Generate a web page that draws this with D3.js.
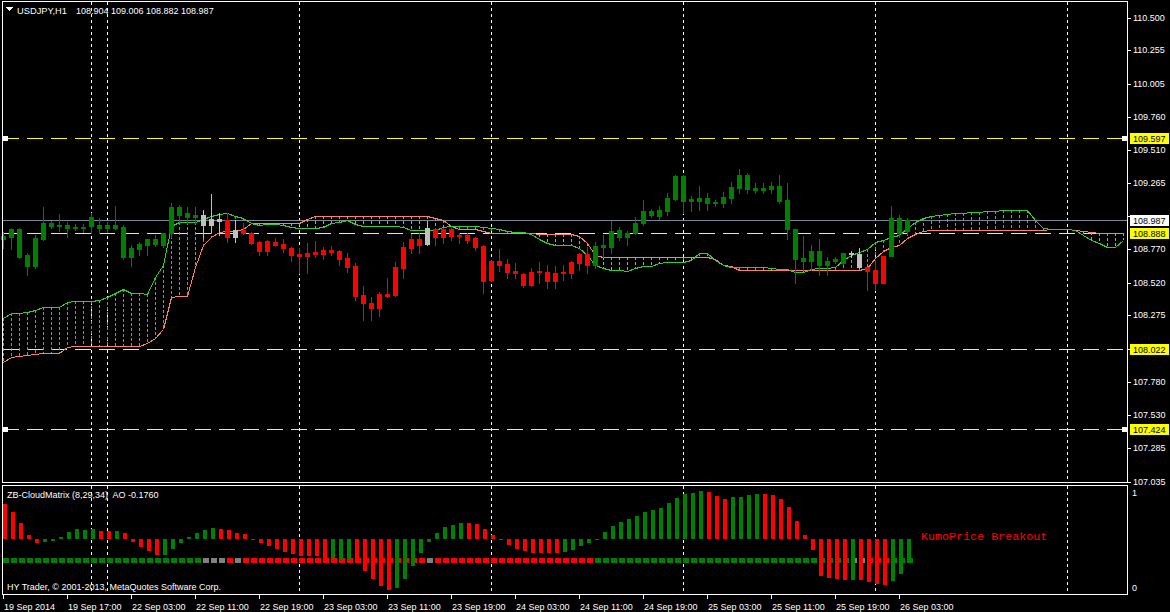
<!DOCTYPE html>
<html><head><meta charset="utf-8">
<script src="https://cdn.jsdelivr.net/npm/d3@7"></script>
<style>html,body{margin:0;padding:0;background:#000;overflow:hidden}</style>
</head><body>
<svg id="c" width="1170" height="612"></svg>
<script>
// ---------- DATA ----------
const symbolTitle = "USDJPY,H1";
const titleValues = ["108.904","109.006","108.882","108.987"];
const indicatorTitle = "ZB-CloudMatrix (8,29,34)  AO -0.1760";
const copyrightText = "HY Trader, \u00A9 2001-2013, MetaQuotes Software Corp.";
const signalText = "KumoPrice Breakout";

const open = [
108.846,108.861,108.920,108.727,108.645,108.846,108.965,108.943,108.950,108.928,
108.935,108.943,108.950,108.928,108.950,108.935,108.712,108.771,108.801,108.846,
108.801,108.891,109.085,109.010,109.025,109.025,108.950,108.995,108.988,108.861,
108.913,108.891,108.824,108.756,108.824,108.809,108.779,108.734,108.719,108.749,
108.734,108.764,108.756,108.704,108.645,108.428,108.368,108.331,108.435,108.428,
108.630,108.779,108.846,108.809,108.920,108.861,108.920,108.868,108.876,108.853,
108.794,108.540,108.682,108.659,108.607,108.585,108.503,108.600,108.600,108.533,
108.592,108.592,108.667,108.734,108.652,108.786,108.786,108.913,108.861,108.891,
108.965,109.055,109.018,109.055,109.144,109.316,109.130,109.152,109.115,109.122,
109.115,109.152,109.227,109.324,109.227,109.212,109.219,109.242,109.137,108.920,
108.704,108.682,108.756,108.652,108.682,108.667,108.741,108.734,108.637,108.615,
108.518,108.719,109.003,108.904];
const high = [
108.898,108.928,108.928,108.741,108.876,109.085,108.980,109.033,108.973,108.958,
108.958,109.040,109.003,108.973,109.092,108.950,108.801,108.824,108.846,108.876,
108.891,109.115,109.100,109.085,109.085,109.062,109.182,109.040,109.040,108.988,
108.965,108.898,108.831,108.838,108.853,108.846,108.786,108.779,108.816,108.831,
108.786,108.794,108.764,108.741,108.667,108.495,108.413,108.450,108.555,108.674,
108.824,108.883,108.891,108.980,108.928,108.928,108.928,108.891,108.891,108.861,
108.801,108.689,108.771,108.697,108.667,108.592,108.630,108.674,108.652,108.645,
108.652,108.682,108.741,108.786,108.824,108.876,108.980,108.935,108.906,109.010,
109.137,109.070,109.092,109.189,109.324,109.324,109.167,109.242,109.189,109.137,
109.197,109.271,109.369,109.339,109.264,109.264,109.271,109.324,109.264,108.920,
108.868,108.801,108.846,108.712,108.712,108.741,108.756,108.779,108.637,108.689,
108.719,109.092,109.025,109.006];
const low = [
108.779,108.771,108.704,108.577,108.630,108.838,108.928,108.906,108.861,108.913,
108.898,108.891,108.891,108.898,108.920,108.697,108.645,108.727,108.727,108.794,
108.786,108.861,108.973,108.965,108.965,108.853,108.898,108.876,108.824,108.824,
108.883,108.809,108.727,108.727,108.794,108.749,108.682,108.592,108.592,108.712,
108.697,108.727,108.652,108.600,108.391,108.241,108.241,108.271,108.413,108.420,
108.555,108.741,108.741,108.801,108.801,108.816,108.838,108.816,108.816,108.764,
108.443,108.533,108.607,108.555,108.555,108.488,108.495,108.518,108.480,108.480,
108.540,108.555,108.615,108.592,108.630,108.712,108.741,108.838,108.801,108.883,
108.950,109.010,108.995,109.025,109.137,109.040,109.055,109.062,109.062,109.092,
109.085,109.115,109.189,109.189,109.189,109.189,109.189,109.115,108.846,108.518,
108.615,108.615,108.577,108.577,108.667,108.659,108.712,108.630,108.465,108.465,
108.518,108.719,108.861,108.882];
const close = [
108.868,108.920,108.712,108.645,108.853,108.965,108.943,108.950,108.928,108.935,
108.928,109.010,108.928,108.950,108.928,108.712,108.779,108.809,108.846,108.809,
108.891,109.085,109.025,109.040,109.010,108.950,108.995,108.980,108.861,108.913,
108.891,108.816,108.756,108.831,108.801,108.779,108.727,108.719,108.741,108.734,
108.764,108.749,108.697,108.637,108.420,108.368,108.331,108.435,108.420,108.637,
108.786,108.846,108.801,108.928,108.861,108.920,108.868,108.876,108.838,108.786,
108.533,108.682,108.652,108.600,108.592,108.503,108.600,108.607,108.533,108.592,
108.600,108.674,108.734,108.652,108.794,108.801,108.906,108.861,108.891,108.965,
109.055,109.025,109.062,109.152,109.316,109.130,109.144,109.130,109.152,109.115,
109.159,109.234,109.324,109.219,109.212,109.227,109.242,109.130,108.920,108.697,
108.682,108.756,108.652,108.682,108.697,108.741,108.734,108.637,108.607,108.518,
108.719,109.003,108.891,108.987];
// bar state: g = green, r = red, s = silver (neutral)
const barState = ("ggggggggggggggggggggggggg" + "sss" + "r" + "s" + "rrrrrrrrrrrrrrrrrrrrrrr" + "s" +
  "rrrrrrrrrrrrrrrrrrrr" + "gggggggggggggggggggggggggggggggg" + "ss" + "rrr" + "ggg").split("");

const spanA = [
108.256,108.293,108.293,108.301,108.316,108.338,108.338,108.338,108.376,108.383,
108.383,108.383,108.391,108.413,108.443,108.473,108.443,108.443,108.435,108.562,
108.652,108.943,108.973,108.973,108.973,108.995,109.018,109.033,109.040,109.018,
109.003,108.965,108.950,108.958,108.958,108.950,108.935,108.928,108.928,108.928,
108.935,108.965,108.973,108.988,108.958,108.943,108.943,108.943,108.943,108.943,
108.935,108.913,108.913,108.913,108.913,108.935,108.943,108.943,108.943,108.943,
108.935,108.928,108.920,108.906,108.898,108.898,108.883,108.846,108.816,108.801,
108.801,108.801,108.779,108.727,108.652,108.630,108.615,108.615,108.607,108.630,
108.645,108.645,108.667,108.674,108.674,108.674,108.689,108.741,108.741,108.689,
108.652,108.637,108.637,108.637,108.637,108.637,108.630,108.622,108.622,108.600,
108.600,108.622,108.630,108.630,108.637,108.689,108.727,108.749,108.771,108.824,
108.838,108.861,108.876,108.928,108.973,109.003,109.018,109.025,109.033,109.040,
109.040,109.048,109.048,109.055,109.055,109.062,109.062,109.062,109.062,108.988,
108.928,108.920,108.920,108.920,108.913,108.876,108.838,108.816,108.786,108.786,
108.838];
const spanB = [
107.927,107.965,107.972,107.980,107.987,107.995,107.995,107.995,108.039,108.047,
108.047,108.047,108.047,108.047,108.047,108.047,108.047,108.047,108.069,108.107,
108.174,108.413,108.420,108.420,108.637,108.801,108.861,108.898,108.906,108.906,
108.920,108.965,108.965,108.965,108.965,108.965,108.965,108.965,108.995,109.018,
109.018,109.018,109.018,109.018,109.018,109.018,109.018,109.018,109.018,109.018,
109.018,109.018,109.018,109.018,109.003,108.988,108.943,108.920,108.920,108.920,
108.906,108.891,108.891,108.891,108.891,108.891,108.891,108.883,108.883,108.883,
108.883,108.883,108.868,108.816,108.727,108.712,108.712,108.712,108.712,108.712,
108.712,108.712,108.712,108.712,108.712,108.712,108.712,108.712,108.712,108.697,
108.652,108.645,108.615,108.615,108.615,108.615,108.615,108.615,108.615,108.615,
108.615,108.615,108.615,108.615,108.615,108.615,108.615,108.615,108.630,108.704,
108.756,108.786,108.801,108.853,108.883,108.906,108.913,108.913,108.913,108.913,
108.913,108.913,108.913,108.913,108.913,108.913,108.913,108.913,108.913,108.913,
108.913,108.920,108.920,108.920,108.913,108.906,108.898,108.891,108.891,108.891,
108.891];

const aoValues = [
0.259,0.202,0.122,0.032,-0.029,-0.022,-0.012,0.019,0.056,0.076,
0.068,0.076,0.061,0.061,0.061,0.044,-0.018,-0.054,-0.084,-0.115,
-0.115,-0.071,-0.029,0.019,0.048,0.068,0.081,0.076,0.068,0.048,
0.039,0.004,-0.029,-0.049,-0.071,-0.091,-0.108,-0.122,-0.122,-0.122,
-0.139,-0.139,-0.147,-0.147,-0.159,-0.230,-0.291,-0.342,-0.372,-0.359,
-0.291,-0.196,-0.098,-0.018,0.048,0.088,0.105,0.122,0.122,0.110,
0.076,0.032,0.004,-0.042,-0.071,-0.086,-0.098,-0.098,-0.103,-0.103,
-0.091,-0.078,-0.049,-0.025,0.005,0.056,0.098,0.129,0.149,0.173,
0.202,0.215,0.232,0.264,0.301,0.330,0.342,0.354,0.345,0.320,
0.296,0.308,0.312,0.325,0.332,0.332,0.325,0.296,0.239,0.134,
0.032,-0.078,-0.267,-0.282,-0.291,-0.298,-0.298,-0.298,-0.311,-0.328,
-0.335,-0.304,-0.254,-0.176];
const aoState = ("rrrrr" + "ggggggg" + "rr" + "g" + "rrrrr" + "ggggggg" + "rrrrrrrrrrrrrr" + "ggg" + "rrrrr" +
  "ggggggggg" + "rrrrrrrrrrrr" + "gggggggggggggggggg" + "rrr" + "gggg" + "rrrrrrrrrrr" + "g" + "rrrr" + "ggg").split("");

const timeLabels = ["19 Sep 2014","19 Sep 17:00","22 Sep 03:00","22 Sep 11:00","22 Sep 19:00",
  "23 Sep 03:00","23 Sep 11:00","23 Sep 19:00","24 Sep 03:00","24 Sep 11:00","24 Sep 19:00",
  "25 Sep 03:00","25 Sep 11:00","25 Sep 19:00","26 Sep 03:00"];
const timeLabelBars = [0,8,16,24,32,40,48,56,64,72,80,88,96,104,112];
const gridBars = [11,13,37,61,85,109,133];
const priceTicks = [110.500,110.255,110.005,109.760,109.510,109.265,109.015,108.770,108.520,
  108.275,108.025,107.780,107.530,107.285,107.035];
const levelPrices = [109.597,108.888,108.022,107.424];
const currentPrice = 108.987;
const aoAxisLabels = ["1","0"];

// ---------- DRAWING ----------
const W = 1170, H = 612;
const FONT = "'Liberation Sans', Arial, sans-serif";
const colors = {g:"#008000", r:"#FF0000", s:"#C0C0C0"};
const sqColors = {g:"#008000", r:"#FF0000", s:"#808080"};
const spanAColor = "#32CD32", spanBColor = "#FA8072";

const svg = d3.select("#c").attr("shape-rendering","crispEdges");
svg.append("rect").attr("width",W).attr("height",H).attr("fill","#000");

const x = d3.scaleLinear().domain([0,140]).range([3,1123]);
const y = d3.scaleLinear().domain([107.035,110.5]).range([481.5,17.5]);
const yAO = d3.scaleLinear().domain([-0.4,0.4]).range([593.86,484.74]);
const px = i => Math.round(x(i));
const py = v => Math.round(y(v));

const mainG = svg.append("g");
// vertical grid
gridBars.forEach(b => {
  [[2,482],[486,594]].forEach(([a,bb]) => {
    mainG.append("line").attr("x1",px(b)+0.5).attr("x2",px(b)+0.5).attr("y1",a).attr("y2",bb)
      .attr("stroke","#fff").attr("stroke-dasharray","3,3");
  });
});

// current price line
mainG.append("line").attr("x1",3).attr("x2",1127).attr("y1",py(currentPrice)+0.5).attr("y2",py(currentPrice)+0.5)
  .attr("stroke","#778899");

// level lines
levelPrices.forEach(v => {
  mainG.append("line").attr("x1",3).attr("x2",1127).attr("y1",py(v)+0.5).attr("y2",py(v)+0.5)
    .attr("stroke","#FFFF00").attr("stroke-dasharray","16,8");
});
[levelPrices[0], levelPrices[3]].forEach(v => {
  mainG.append("rect").attr("x",3).attr("y",py(v)-2).attr("width",5).attr("height",5).attr("fill","#fff");
  mainG.append("rect").attr("x",1122).attr("y",py(v)-2).attr("width",5).attr("height",5).attr("fill","#fff");
});

// cloud hatch
spanA.forEach((a,i) => {
  const b = spanB[i];
  const y1 = py(a), y2 = py(b);
  if (Math.abs(y1-y2) < 1) return;
  mainG.append("line").attr("x1",px(i)+0.5).attr("x2",px(i)+0.5)
    .attr("y1",Math.min(y1,y2)).attr("y2",Math.max(y1,y2))
    .attr("stroke", a >= b ? spanAColor : spanBColor).attr("stroke-dasharray","3,2");
});
const line = d3.line().x((d,i)=>px(i)+0.5).y(d=>py(d)+0.5);
mainG.append("path").attr("d",line(spanB)).attr("fill","none").attr("stroke",spanBColor);
mainG.append("path").attr("d",line(spanA)).attr("fill","none").attr("stroke",spanAColor);

// candles
open.forEach((o,i) => {
  const c = close[i], col = colors[barState[i]];
  const cx = px(i);
  mainG.append("line").attr("x1",cx+0.5).attr("x2",cx+0.5).attr("y1",py(high[i])).attr("y2",py(low[i])+1)
    .attr("stroke",col);
  const t = py(Math.max(o,c)), bt = py(Math.min(o,c));
  mainG.append("rect").attr("x",cx-2).attr("y",t).attr("width",5).attr("height",Math.max(1,bt-t+1))
    .attr("fill",col);
});

// indicator squares + histogram
const base = Math.round(yAO(0));
barState.forEach((s,i) => {
  svg.append("rect").attr("x",px(i)).attr("y",558).attr("width",6).attr("height",5).attr("fill",sqColors[s]);
});
aoValues.forEach((v,i) => {
  const yv = Math.round(yAO(v));
  const top = Math.min(yv,base), h = Math.max(1, Math.abs(yv-base));
  svg.append("rect").attr("x",px(i)).attr("y",top).attr("width",4).attr("height",h)
    .attr("fill", colors[aoState[i]]);
});

// frames
svg.append("rect").attr("x",2.5).attr("y",1.5).attr("width",1125).attr("height",481).attr("fill","none").attr("stroke","#fff");
svg.append("rect").attr("x",2.5).attr("y",485.5).attr("width",1125).attr("height",109).attr("fill","none").attr("stroke","#fff");

// right price axis
const axG = svg.append("g").attr("font-family",FONT).attr("font-size","9px");
const boxed = levelPrices.concat([currentPrice]);
priceTicks.forEach(v => {
  const yy = py(v);
  axG.append("line").attr("x1",1127).attr("x2",1131).attr("y1",yy+0.5).attr("y2",yy+0.5).attr("stroke","#fff");
  // labels hidden under a price box are not drawn (covered in the original)
  if (boxed.some(b => Math.abs(py(b) - yy) < 9)) return;
  axG.append("text").attr("x",1133).attr("y",yy+2.5).attr("fill","#fff").text(v.toFixed(3));
});
function priceBox(v, bg) {
  const yy = py(v);
  axG.append("rect").attr("x",1130).attr("y",yy-5).attr("width",39).attr("height",11).attr("fill",bg);
  axG.append("text").attr("x",1133).attr("y",yy+3.5).attr("fill","#000").text(v.toFixed(3));
}
levelPrices.forEach(v => priceBox(v,"#FFFF00"));
priceBox(currentPrice,"#FFFFFF");

// indicator axis labels
axG.append("text").attr("x",1132).attr("y",496).attr("fill","#fff").text(aoAxisLabels[0]);
axG.append("text").attr("x",1132).attr("y",590.5).attr("fill","#fff").text(aoAxisLabels[1]);

// bottom time axis
timeLabels.forEach((t,k) => {
  const xx = px(timeLabelBars[k]);
  axG.append("line").attr("x1",xx+0.5).attr("x2",xx+0.5).attr("y1",594).attr("y2",599).attr("stroke","#fff");
  axG.append("text").attr("x",xx+1).attr("y",609.5).attr("fill","#fff").text(t);
});

// titles
svg.append("path").attr("d","M6,7 L13,7 L9.5,11 Z").attr("fill","#fff");
svg.append("text").attr("x",17).attr("y",13.5).attr("font-family",FONT).attr("font-size","9.3px")
  .attr("fill","#fff").text(symbolTitle);
svg.append("text").attr("x",76).attr("y",13.5).attr("font-family",FONT).attr("font-size","9px")
  .attr("fill","#fff").text(titleValues.join(" "));
svg.append("text").attr("x",7).attr("y",498).attr("font-family",FONT).attr("font-size","9px")
  .attr("fill","#fff").attr("xml:space","preserve").text(indicatorTitle);
svg.append("text").attr("x",7).attr("y",590).attr("font-family",FONT).attr("font-size","9px")
  .attr("fill","#fff").text(copyrightText);
svg.append("text").attr("x",921).attr("y",540).attr("font-family","'Liberation Mono', 'Courier New', monospace")
  .attr("font-size","11.7px").attr("fill","#FF0000").text(signalText);
</script>
</body></html>
